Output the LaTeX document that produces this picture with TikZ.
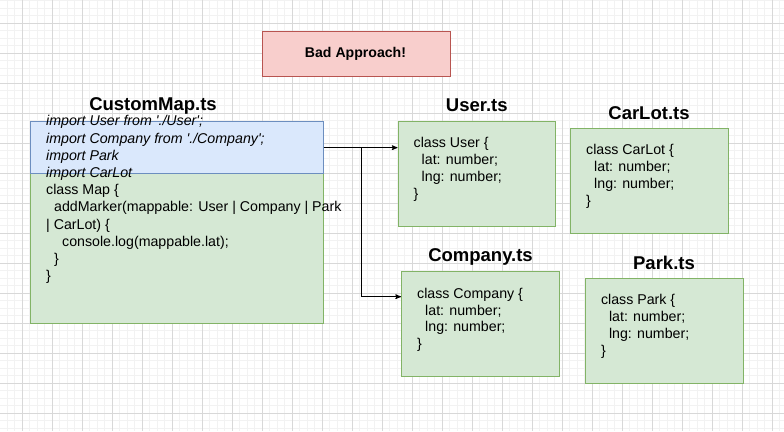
\documentclass[tikz,border=0pt]{standalone}
\usepackage{fontspec}
\setmainfont{Liberation Sans}
\usepackage{tikz}
\usetikzlibrary{arrows}
\usetikzlibrary{positioning}

\definecolor{gridminor}{HTML}{F2F2F2}
\definecolor{gridmajor}{HTML}{D8D8D8}
\definecolor{greenfill}{HTML}{D5E8D4}
\definecolor{greenline}{HTML}{82B366}
\definecolor{bluefill}{HTML}{DAE8FC}
\definecolor{blueline}{HTML}{6C8EBF}
\definecolor{redfill}{HTML}{F8CECC}
\definecolor{redline}{HTML}{B85450}

\newcommand{\ind}{\hspace*{8pt}}
\newcommand{\q}{\textquotesingle}

\begin{document}
\begin{tikzpicture}[x=1pt,y=-1pt,->,>=stealth',
  file box/.style={draw=greenline,fill=greenfill,line width=1pt,anchor=north west,inner sep=0pt},
  import box/.style={draw=blueline,fill=bluefill,line width=1pt,anchor=north west,inner sep=0pt},
  note box/.style={draw=redline,fill=redfill,line width=1pt,anchor=north west,inner sep=0pt,
    font=\fontsize{14.1}{16}\selectfont\bfseries},
  title text/.style={anchor=base,inner sep=0pt,font=\fontsize{18.5}{22}\selectfont\bfseries},
  code text/.style={anchor=north west,inner sep=0pt,align=left,font=\fontsize{14.2}{16.8}\selectfont}]

  % background and grid
  \useasboundingbox (0,0) rectangle (784,431);
  \fill[white] (0,0) rectangle (784,431);
  \foreach \i in {0,...,105} {
    \draw[-,gridminor,line width=1pt] ({\i*7.5-0.5},0) -- ({\i*7.5-0.5},431);
  }
  \foreach \i in {0,...,58} {
    \draw[-,gridminor,line width=1pt] (0,{\i*7.5+0.5}) -- (784,{\i*7.5+0.5});
  }
  \foreach \i in {0,...,26} {
    \draw[-,gridmajor,line width=1pt] ({\i*30-8},0) -- ({\i*30-8},431);
  }
  \foreach \i in {0,...,14} {
    \draw[-,gridmajor,line width=1pt] (0,{\i*30-7}) -- (784,{\i*30-7});
  }

  % note
  \node[note box,minimum width=188,minimum height=45] (note) at (262,31) {};
  \node[note box,draw=none,fill=none,anchor=base] (notetext) at (355.5,57.7) {Bad Approach!};

  % CustomMap.ts
  \node[file box,minimum width=293,minimum height=150] (map) at (29.5,173.3) {};
  \node[import box,minimum width=293,minimum height=52.3] (imports) at (29.5,121) {};
  \node[title text] (maptitle) at (153,110.7) {CustomMap.ts};
  \node[code text,font=\fontsize{14.2}{17.2}\selectfont] (mapcode) at (46,115.5) {%
    \textit{import User from \q./User\q;}\\
    \textit{import Company from \q./Company\q;}\\
    \textit{import Park}\\
    \textit{import CarLot}\\
    class Map \{\\
    \ind addMarker(mappable: User | Company | Park\\
    | CarLot) \{\\
    \ind\ind console.log(mappable.lat);\\
    \ind\}\\
    \}};

  % other files
  \node[file box,minimum width=157.5,minimum height=105] (user) at (397.5,121) {};
  \node[file box,minimum width=158,minimum height=105] (carlot) at (569.5,128.3) {};
  \node[file box,minimum width=158,minimum height=105] (company) at (401,271) {};
  \node[file box,minimum width=158,minimum height=105] (park) at (584.5,278.3) {};

  \node[title text] (usertitle) at ([yshift=10pt]user.north) {User.ts};
  \node[title text] (carlottitle) at ([yshift=9pt]carlot.north) {CarLot.ts};
  \node[title text] (companytitle) at ([yshift=9.5pt]company.north) {Company.ts};
  \node[title text] (parktitle) at ([yshift=9pt]park.north) {Park.ts};

  \node[code text] (usercode) at ([xshift=16pt,yshift=-16.2pt]user.north west)
    {class User \{\\ \ind lat: number;\\ \ind lng: number;\\ \}};
  \node[code text] (carlotcode) at ([xshift=16.5pt,yshift=-16.2pt]carlot.north west)
    {class CarLot \{\\ \ind lat: number;\\ \ind lng: number;\\ \}};
  \node[code text] (companycode) at ([xshift=16pt,yshift=-16.8pt]company.north west)
    {class Company \{\\ \ind lat: number;\\ \ind lng: number;\\ \}};
  \node[code text] (parkcode) at ([xshift=16.3pt,yshift=-16.2pt]park.north west)
    {class Park \{\\ \ind lat: number;\\ \ind lng: number;\\ \}};

  % connectors
  \coordinate (split) at (361,147);
  \coordinate (companyin) at (401,296.7);
  \draw[line width=1pt] (imports.east) -- (imports.east -| user.west);
  \draw[line width=1pt] (split) |- (companyin);

\end{tikzpicture}
\end{document}
